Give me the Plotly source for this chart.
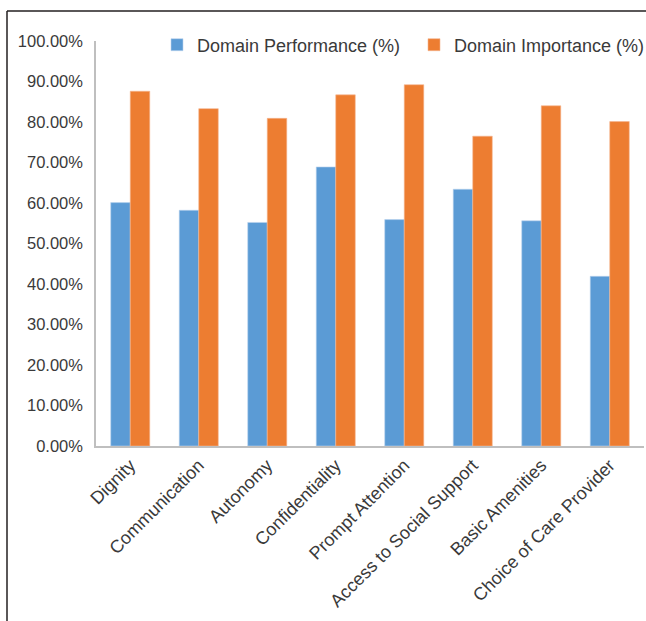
import plotly.graph_objects as go

categories = ["Dignity", "Communication", "Autonomy", "Confidentiality",
              "Prompt Attention", "Access to Social Support", "Basic Amenities",
              "Choice of Care Provider"]
performance = [0.601, 0.582, 0.552, 0.689, 0.559, 0.634, 0.556, 0.419]
importance = [0.876, 0.833, 0.809, 0.867, 0.892, 0.765, 0.840, 0.801]
y_ticks = [0, 0.1, 0.2, 0.3, 0.4, 0.5, 0.6, 0.7, 0.8, 0.9, 1.0]

BLUE = "#5B9BD5"
ORANGE = "#ED7D31"
TXT = "#3A3A3A"
FONT = "Liberation Sans, Arial, sans-serif"

fig = go.Figure()
fig.add_trace(go.Bar(name="Domain Performance (%)", x=categories, y=performance,
                     legend="legend",
                     marker=dict(color=BLUE, line=dict(color="#BCD4EE", width=0.6))))
fig.add_trace(go.Bar(name="Domain Importance (%)", x=categories, y=importance,
                     legend="legend2",
                     marker=dict(color=ORANGE, line=dict(color="#F5B690", width=0.6))))

W, H = 646, 621
L, R, T, B = 96, 2, 41, 175
pw, ph = W - L - R, H - T - B

leg_common = dict(orientation="h", xanchor="left",
                  y=1 + (T - 45) / ph, yanchor="middle",
                  font=dict(family=FONT, size=18, color=TXT),
                  bgcolor="rgba(0,0,0,0)", itemwidth=30)

fig.update_layout(
    width=W, height=H,
    margin=dict(l=L, r=R, t=T, b=B, pad=0, autoexpand=False),
    paper_bgcolor="white", plot_bgcolor="white",
    font=dict(family=FONT, size=16, color=TXT),
    barmode="group", bargap=0.43, bargroupgap=0,
    showlegend=True,
    legend=dict(x=(157 - L) / pw, **leg_common),
    legend2=dict(x=(414 - L) / pw, **leg_common),
    xaxis=dict(showline=True, linecolor="#BFBFBF", linewidth=1.5,
               showgrid=False, ticks="", tickangle=-45,
               tickfont=dict(family=FONT, size=18, color=TXT)),
    yaxis=dict(range=[0, 1], tickvals=y_ticks, tickformat=".2%",
               showline=True, linecolor="#BFBFBF", linewidth=1.5,
               showgrid=False, zeroline=False, ticks="", ticklabelstandoff=8,
               tickfont=dict(family=FONT, size=16.5, color=TXT)),
    shapes=[
        dict(type="line", xref="paper", yref="paper",
             x0=(7 - L) / pw, x1=(W + 10 - L) / pw,
             y0=1 + (T - 11) / ph, y1=1 + (T - 11) / ph,
             line=dict(color="#231F20", width=1.5)),
        dict(type="line", xref="paper", yref="paper",
             x0=(7 - L) / pw, x1=(7 - L) / pw,
             y0=1 + (T - 11) / ph, y1=-(H + 10 - T - ph) / ph,
             line=dict(color="#231F20", width=1.5)),
    ],
)

fig.write_html("out.html")
